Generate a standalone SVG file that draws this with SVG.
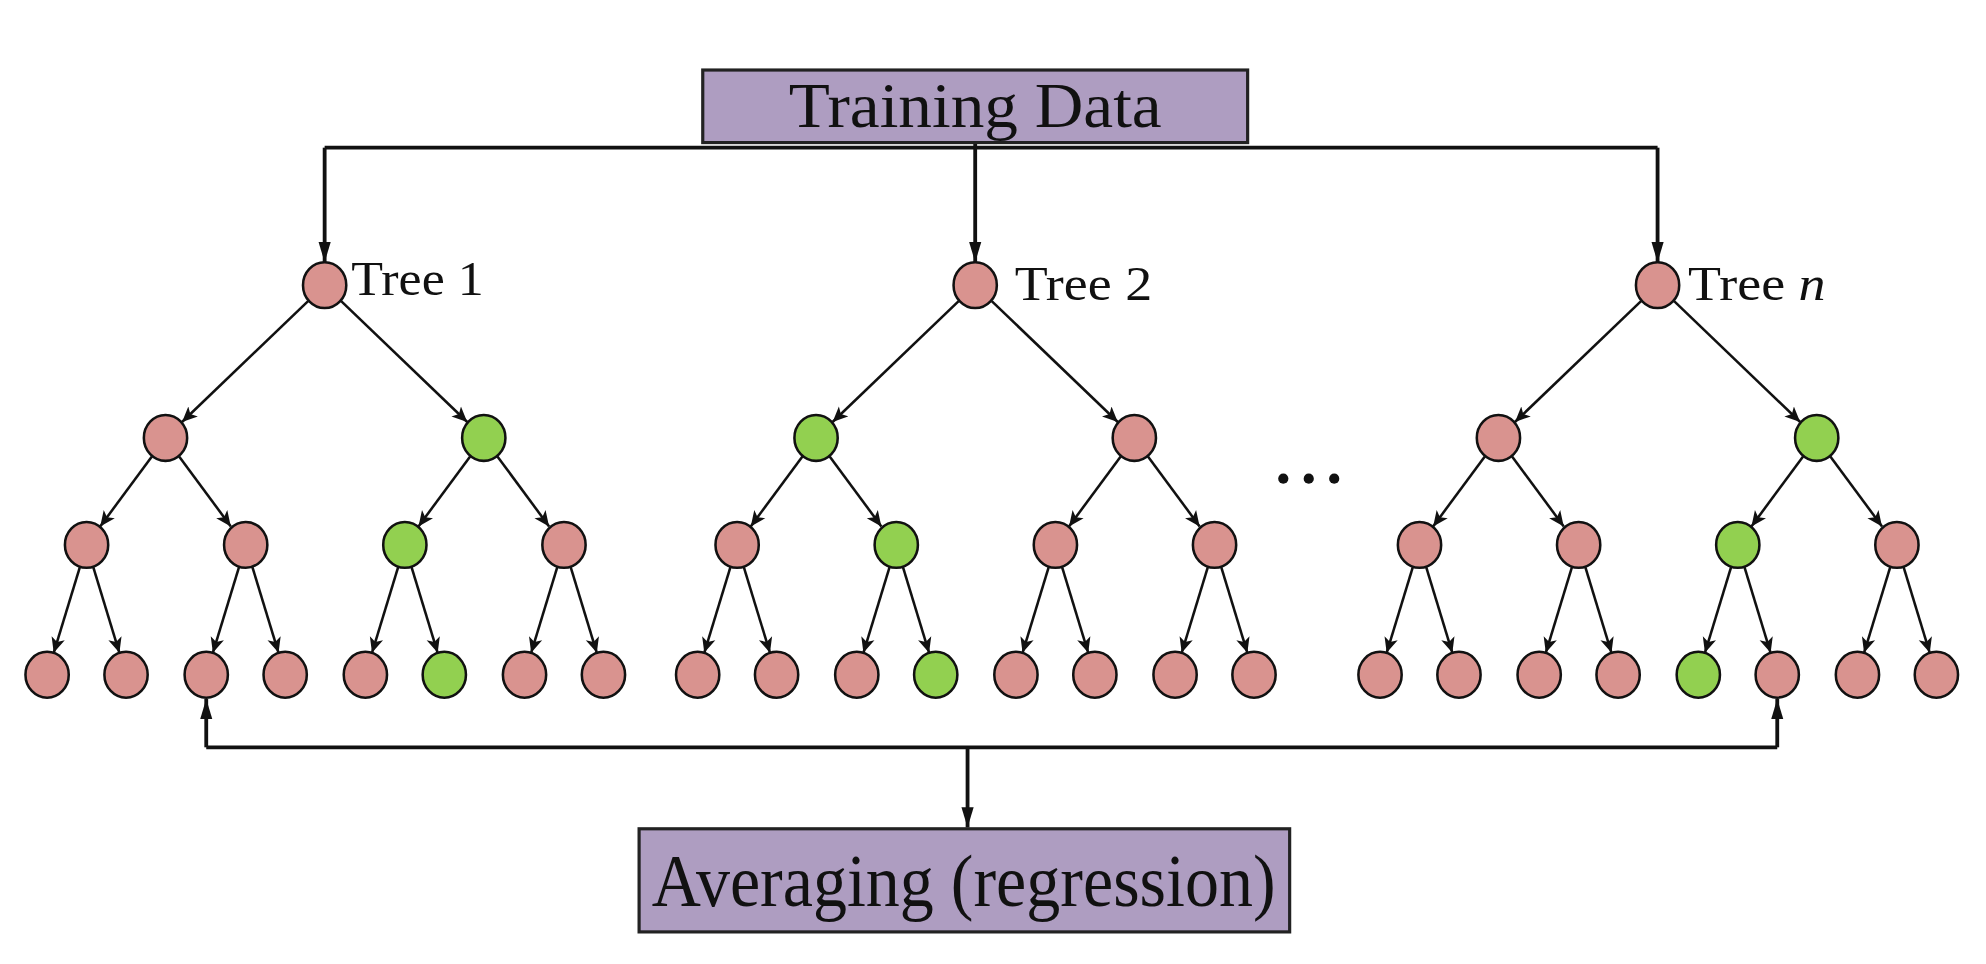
<svg xmlns="http://www.w3.org/2000/svg" xmlns:xlink="http://www.w3.org/1999/xlink" width="1986" height="964" viewBox="0 0 1986 964">
<style>
.box{fill:#AE9DC1;stroke:#222;stroke-width:2.5}
.lbl{font-family:"Liberation Serif",serif;fill:#111}
.p{fill:#D9938F;stroke:#111;stroke-width:2}
.g{fill:#92D050;stroke:#111;stroke-width:2}
.e{stroke:#111;stroke-width:2;fill:none;marker-end:url(#a)}
.m{stroke:#111;stroke-width:3;fill:none}
</style>
<defs>
<marker id="a" viewBox="0 0 10 10" refX="10" refY="5" markerWidth="12" markerHeight="12" orient="auto" markerUnits="userSpaceOnUse"><path d="M0,0.5 L10,5 L0,9.5 L2.5,5 z" fill="#111"/></marker>
<marker id="b" viewBox="0 0 10 10" refX="10" refY="5" markerWidth="16" markerHeight="16" orient="auto" markerUnits="userSpaceOnUse"><path d="M0,2 L10,5 L0,8 z" fill="#111"/></marker>
<g id="te">
<line class="e" x1="-13" y1="236.5" x2="-112" y2="331.5"/>
<line class="e" x1="13" y1="236.5" x2="112" y2="331.5"/>
<line class="e" x1="-135.7" y1="358.5" x2="-176.3" y2="413.5"/>
<line class="e" x1="-114.3" y1="358.5" x2="-73.7" y2="413.5"/>
<line class="e" x1="114.3" y1="358.5" x2="73.7" y2="413.5"/>
<line class="e" x1="135.7" y1="358.5" x2="176.3" y2="413.5"/>
<line class="e" x1="-192.2" y1="445.2" x2="-212.8" y2="512.8"/>
<line class="e" x1="-181.8" y1="445.2" x2="-161.2" y2="512.8"/>
<line class="e" x1="-67.2" y1="445.2" x2="-87.8" y2="512.8"/>
<line class="e" x1="-56.8" y1="445.2" x2="-36.2" y2="512.8"/>
<line class="e" x1="57.8" y1="445.2" x2="37.2" y2="512.8"/>
<line class="e" x1="68.2" y1="445.2" x2="88.8" y2="512.8"/>
<line class="e" x1="182.8" y1="445.2" x2="162.2" y2="512.8"/>
<line class="e" x1="193.2" y1="445.2" x2="213.8" y2="512.8"/>
</g>
</defs>
<g transform="scale(1.2731)">
<g id="connectors">
<polyline class="m" points="255,116 1302,116"/>
<line class="m" x1="766" y1="84" x2="766" y2="206" style="marker-end:url(#b)"/>
<line class="m" x1="255" y1="116" x2="255" y2="206" style="marker-end:url(#b)"/>
<line class="m" x1="1302" y1="116" x2="1302" y2="206" style="marker-end:url(#b)"/>
<polyline class="m" points="162,587 1396,587"/>
<line class="m" x1="162" y1="587" x2="162" y2="549" style="marker-end:url(#b)"/>
<line class="m" x1="1396" y1="587" x2="1396" y2="549" style="marker-end:url(#b)"/>
<line class="m" x1="760" y1="587" x2="760" y2="650" style="marker-end:url(#b)"/>
<use xlink:href="#te" href="#te" transform="translate(255,0)"/>
<use xlink:href="#te" href="#te" transform="translate(766,0)"/>
<use xlink:href="#te" href="#te" transform="translate(1302,0)"/>
</g>
<g id="training-data"><rect class="box" x="552" y="55" width="428" height="57"/><text class="lbl" x="766" y="100" font-size="50" text-anchor="middle" textLength="293" lengthAdjust="spacingAndGlyphs">Training Data</text></g>
<g id="averaging"><rect class="box" x="502" y="651" width="511" height="81"/><text class="lbl" x="757" y="712" font-size="58" text-anchor="middle" textLength="490" lengthAdjust="spacingAndGlyphs">Averaging (regression)</text></g>
<g id="dots" fill="#111"><circle cx="1008" cy="376" r="4"/><circle cx="1028" cy="376" r="4"/><circle cx="1048" cy="376" r="4"/></g>
<g id="tree1" transform="translate(255,0)">
<text class="lbl" x="21" y="232" font-size="38" textLength="104" lengthAdjust="spacingAndGlyphs">Tree 1</text>
<g id="t1-root"><ellipse class="p" cx="0" cy="224" rx="17" ry="18"/></g>
<g id="t1-a"><ellipse class="p" cx="-125" cy="344" rx="17" ry="18"/></g>
<g id="t1-b"><ellipse class="g" cx="125" cy="344" rx="17" ry="18"/></g>
<g id="t1-c"><ellipse class="p" cx="-187" cy="428" rx="17" ry="18"/></g>
<g id="t1-d"><ellipse class="p" cx="-62" cy="428" rx="17" ry="18"/></g>
<g id="t1-e"><ellipse class="g" cx="63" cy="428" rx="17" ry="18"/></g>
<g id="t1-f"><ellipse class="p" cx="188" cy="428" rx="17" ry="18"/></g>
<g id="t1-l1"><ellipse class="p" cx="-218" cy="530" rx="17" ry="18"/></g>
<g id="t1-l2"><ellipse class="p" cx="-156" cy="530" rx="17" ry="18"/></g>
<g id="t1-l3"><ellipse class="p" cx="-93" cy="530" rx="17" ry="18"/></g>
<g id="t1-l4"><ellipse class="p" cx="-31" cy="530" rx="17" ry="18"/></g>
<g id="t1-l5"><ellipse class="p" cx="32" cy="530" rx="17" ry="18"/></g>
<g id="t1-l6"><ellipse class="g" cx="94" cy="530" rx="17" ry="18"/></g>
<g id="t1-l7"><ellipse class="p" cx="157" cy="530" rx="17" ry="18"/></g>
<g id="t1-l8"><ellipse class="p" cx="219" cy="530" rx="17" ry="18"/></g>
</g>
<g id="tree2" transform="translate(766,0)">
<text class="lbl" x="31" y="236" font-size="38" textLength="108" lengthAdjust="spacingAndGlyphs">Tree 2</text>
<g id="t2-root"><ellipse class="p" cx="0" cy="224" rx="17" ry="18"/></g>
<g id="t2-a"><ellipse class="g" cx="-125" cy="344" rx="17" ry="18"/></g>
<g id="t2-b"><ellipse class="p" cx="125" cy="344" rx="17" ry="18"/></g>
<g id="t2-c"><ellipse class="p" cx="-187" cy="428" rx="17" ry="18"/></g>
<g id="t2-d"><ellipse class="g" cx="-62" cy="428" rx="17" ry="18"/></g>
<g id="t2-e"><ellipse class="p" cx="63" cy="428" rx="17" ry="18"/></g>
<g id="t2-f"><ellipse class="p" cx="188" cy="428" rx="17" ry="18"/></g>
<g id="t2-l1"><ellipse class="p" cx="-218" cy="530" rx="17" ry="18"/></g>
<g id="t2-l2"><ellipse class="p" cx="-156" cy="530" rx="17" ry="18"/></g>
<g id="t2-l3"><ellipse class="p" cx="-93" cy="530" rx="17" ry="18"/></g>
<g id="t2-l4"><ellipse class="g" cx="-31" cy="530" rx="17" ry="18"/></g>
<g id="t2-l5"><ellipse class="p" cx="32" cy="530" rx="17" ry="18"/></g>
<g id="t2-l6"><ellipse class="p" cx="94" cy="530" rx="17" ry="18"/></g>
<g id="t2-l7"><ellipse class="p" cx="157" cy="530" rx="17" ry="18"/></g>
<g id="t2-l8"><ellipse class="p" cx="219" cy="530" rx="17" ry="18"/></g>
</g>
<g id="treen" transform="translate(1302,0)">
<text class="lbl" x="24" y="236" font-size="38" textLength="108" lengthAdjust="spacingAndGlyphs">Tree <tspan font-style="italic">n</tspan></text>
<g id="tn-root"><ellipse class="p" cx="0" cy="224" rx="17" ry="18"/></g>
<g id="tn-a"><ellipse class="p" cx="-125" cy="344" rx="17" ry="18"/></g>
<g id="tn-b"><ellipse class="g" cx="125" cy="344" rx="17" ry="18"/></g>
<g id="tn-c"><ellipse class="p" cx="-187" cy="428" rx="17" ry="18"/></g>
<g id="tn-d"><ellipse class="p" cx="-62" cy="428" rx="17" ry="18"/></g>
<g id="tn-e"><ellipse class="g" cx="63" cy="428" rx="17" ry="18"/></g>
<g id="tn-f"><ellipse class="p" cx="188" cy="428" rx="17" ry="18"/></g>
<g id="tn-l1"><ellipse class="p" cx="-218" cy="530" rx="17" ry="18"/></g>
<g id="tn-l2"><ellipse class="p" cx="-156" cy="530" rx="17" ry="18"/></g>
<g id="tn-l3"><ellipse class="p" cx="-93" cy="530" rx="17" ry="18"/></g>
<g id="tn-l4"><ellipse class="p" cx="-31" cy="530" rx="17" ry="18"/></g>
<g id="tn-l5"><ellipse class="g" cx="32" cy="530" rx="17" ry="18"/></g>
<g id="tn-l6"><ellipse class="p" cx="94" cy="530" rx="17" ry="18"/></g>
<g id="tn-l7"><ellipse class="p" cx="157" cy="530" rx="17" ry="18"/></g>
<g id="tn-l8"><ellipse class="p" cx="219" cy="530" rx="17" ry="18"/></g>
</g>
</g>
</svg>
